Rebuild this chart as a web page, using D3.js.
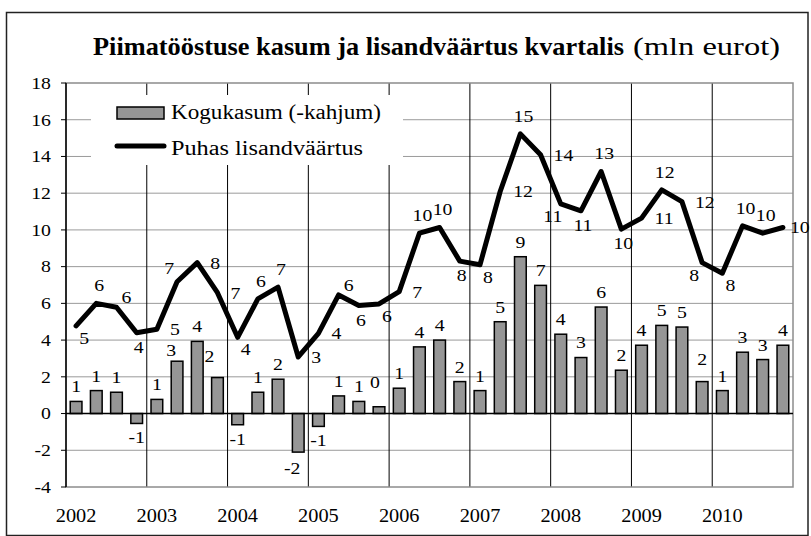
<!DOCTYPE html>
<html>
<head>
<meta charset="utf-8">
<script src="https://cdn.jsdelivr.net/npm/d3@7"></script>
</head>
<body style="margin:0">
<script>
// Piimatööstuse kasum ja lisandväärtus kvartalis (mln eurot)

const years = [2002, 2003, 2004, 2005, 2006, 2007, 2008, 2009, 2010];
const quarters = years.flatMap(y => [y + "Q1", y + "Q2", y + "Q3", y + "Q4"]);

// Kogukasum (-kahjum), bars
const profit = [
    0.66, 1.25, 1.16, -0.54,
    0.77, 2.85, 3.93, 1.96,
    -0.61, 1.16, 1.87, -2.1,
    -0.7, 0.96, 0.66, 0.37,
    1.38, 3.63, 4.0, 1.74,
    1.25, 5.0, 8.54, 6.98,
    4.32, 3.05, 5.8, 2.36,
    3.72, 4.8, 4.71, 1.74,
    1.25, 3.34, 2.94, 3.72
];

// Puhas lisandväärtus, line
const valueAdded = [
    4.77, 6.0, 5.79, 4.40,
    4.59, 7.18, 8.22, 6.58,
    4.15, 6.24, 6.88, 3.08,
    4.37, 6.46, 5.88, 5.97,
    6.64, 9.82, 10.13, 8.3,
    8.1, 12.09, 15.23, 14.09,
    11.42, 11.04, 13.18, 10.04,
    10.64, 12.18, 11.54, 8.22,
    7.64, 10.22, 9.82, 10.13
];

// where each line label sits relative to its point
const lineLabelPos = [
    "br", "a", "ar", "b",
    "r", "al", "r", "r",
    "br", "a", "a", "r",
    "r", "ar", "b", "br",
    "r", "a", "a", "b",
    "br", "r", "a", "r",
    "bl", "b", "a", "b",
    "r", "a", "r", "bl",
    "br", "a", "a", "r"
];

const yTicks = [-4, -2, 0, 2, 4, 6, 8, 10, 12, 14, 16, 18];

const width = 811, height = 536;
const plot = { left: 66, right: 793, top: 83, bottom: 487 };
const numSize = 17.5, stretch = 1.13;
const FONT = "Liberation Serif";

const svg = d3.select("body").append("svg")
    .attr("width", width)
    .attr("height", height)
    .style("display", "block");

svg.append("rect").attr("width", width).attr("height", height).attr("fill", "#fff");

// outer frame
svg.append("rect")
    .attr("x", 6.5).attr("y", 12.5)
    .attr("width", 801.5).attr("height", 523)
    .attr("fill", "none")
    .attr("stroke", "#222")
    .attr("stroke-width", 1.5);

// Title
svg.append("text")
    .attr("x", 93).attr("y", 55)
    .attr("font-family", FONT)
    .attr("font-size", 26)
    .attr("font-weight", "bold")
    .attr("textLength", 531)
    .attr("lengthAdjust", "spacingAndGlyphs")
    .text("Piimatööstuse kasum ja lisandväärtus kvartalis");

svg.append("text")
    .attr("x", 633).attr("y", 55)
    .attr("font-family", FONT)
    .attr("font-size", 26)
    .attr("textLength", 147)
    .attr("lengthAdjust", "spacingAndGlyphs")
    .text("(mln eurot)");

// Scales
const x = d3.scaleBand()
    .domain(quarters)
    .range([plot.left, plot.right])
    .paddingInner(0.42)
    .paddingOuter(0.21);

const y = d3.scaleLinear()
    .domain([-4, 18])
    .range([plot.bottom, plot.top]);

const cx = q => x(q) + x.bandwidth() / 2;
const step = x.step();

// text drawn slightly wider, like the original
function stretchedText(g, px, py, str, anchor, size) {
    return g.append("text")
        .attr("transform", `translate(${px},${py}) scale(${stretch},1)`)
        .attr("font-family", FONT)
        .attr("text-anchor", anchor || "middle")
        .attr("font-size", size || numSize)
        .text(str);
}

// horizontal gridlines
svg.append("g")
    .selectAll("line")
    .data(yTicks.filter(t => t !== 0 && t !== -4 && t !== 18))
    .join("line")
    .attr("x1", plot.left).attr("x2", plot.right)
    .attr("y1", d => y(d)).attr("y2", d => y(d))
    .attr("stroke", "#9a9a9a")
    .attr("stroke-width", 1);

// year separators
svg.append("g")
    .selectAll("line")
    .data(years.slice(1))
    .join("line")
    .attr("x1", d => x(d + "Q1") - step * 0.21)
    .attr("x2", d => x(d + "Q1") - step * 0.21)
    .attr("y1", plot.top).attr("y2", plot.bottom)
    .attr("stroke", "#000")
    .attr("stroke-width", 1);

// plot border
svg.append("rect")
    .attr("x", plot.left).attr("y", plot.top)
    .attr("width", plot.right - plot.left)
    .attr("height", plot.bottom - plot.top)
    .attr("fill", "none")
    .attr("stroke", "#8c8c8c")
    .attr("stroke-width", 1.5);

// left axis
const axisG = svg.append("g");
axisG.append("line")
    .attr("x1", plot.left).attr("x2", plot.left)
    .attr("y1", plot.top).attr("y2", plot.bottom)
    .attr("stroke", "#000").attr("stroke-width", 1.5);
axisG.selectAll(".tick")
    .data(yTicks)
    .join("line")
    .attr("x1", plot.left - 5).attr("x2", plot.left)
    .attr("y1", d => y(d)).attr("y2", d => y(d))
    .attr("stroke", "#000");
yTicks.forEach(t => stretchedText(axisG, 51, y(t) + 5.8, t, "end"));

// Bars
svg.append("g")
    .selectAll("rect")
    .data(profit)
    .join("rect")
    .attr("x", (d, i) => x(quarters[i]))
    .attr("width", x.bandwidth())
    .attr("y", d => y(Math.max(0, d)))
    .attr("height", d => Math.abs(y(d) - y(0)))
    .attr("fill", "#969696")
    .attr("stroke", "#000")
    .attr("stroke-width", 1.5);

// zero line
svg.append("line")
    .attr("x1", plot.left).attr("x2", plot.right)
    .attr("y1", y(0)).attr("y2", y(0))
    .attr("stroke", "#000")
    .attr("stroke-width", 1.5);

// Line
const line = d3.line()
    .x((d, i) => cx(quarters[i]))
    .y(d => y(d));

svg.append("path")
    .datum(valueAdded)
    .attr("d", line)
    .attr("fill", "none")
    .attr("stroke", "#000")
    .attr("stroke-width", 5)
    .attr("stroke-linejoin", "round")
    .attr("stroke-linecap", "round");

// Data labels (hyphen minus, as in the original)
const fmt = v => d3.format(".0f")(v).replace("\u2212", "-");
const mid = numSize * 0.34; // shift from visual centre to baseline
const labels = svg.append("g");

// a few bar labels were pushed aside in the original
const barNudge = { 5: [-6, 4], 7: [-8, -7], 11: [-6, 2], 15: [-4, -10], 31: [0, -8] };
profit.forEach((v, i) => {
    const n = barNudge[i] || [0, 0];
    const px = cx(quarters[i]) + n[0];
    const py = (v >= 0 ? y(v) - 15 : y(v) + 14) + n[1];
    stretchedText(labels, px, py + mid, fmt(v));
});

const offsets = {
    a: [3, -18], b: [2, 14], al: [-8, -14], ar: [10, -10],
    bl: [-8, 12], br: [8, 12]
};
valueAdded.forEach((v, i) => {
    const px = cx(quarters[i]);
    const py = y(v);
    const pos = lineLabelPos[i];
    if (pos === "r") {
        stretchedText(labels, px + (i === 35 ? 7 : 13), py + mid, fmt(v), "start");
    } else {
        const o = offsets[pos];
        stretchedText(labels, px + o[0], py + o[1] + mid, fmt(v));
    }
});

// Year labels
years.forEach(yr => stretchedText(svg, cx(yr + "Q1"), 521.5, yr, "middle", 18));

// Legend
const legend = svg.append("g");
legend.append("rect")
    .attr("x", 91).attr("y", 95)
    .attr("width", 312).attr("height", 70)
    .attr("fill", "#fff");
legend.append("rect")
    .attr("x", 117).attr("y", 107)
    .attr("width", 47).attr("height", 12)
    .attr("fill", "#969696")
    .attr("stroke", "#000")
    .attr("stroke-width", 1.5);
legend.append("line")
    .attr("x1", 117).attr("x2", 164)
    .attr("y1", 146).attr("y2", 146)
    .attr("stroke", "#000")
    .attr("stroke-width", 5)
    .attr("stroke-linecap", "round");
legend.append("text")
    .attr("x", 171).attr("y", 119)
    .attr("font-family", FONT)
    .attr("font-size", 20)
    .attr("textLength", 210)
    .attr("lengthAdjust", "spacingAndGlyphs")
    .text("Kogukasum (-kahjum)");
legend.append("text")
    .attr("x", 171).attr("y", 155)
    .attr("font-family", FONT)
    .attr("font-size", 20)
    .attr("textLength", 192)
    .attr("lengthAdjust", "spacingAndGlyphs")
    .text("Puhas lisandväärtus");
</script>
</body>
</html>
